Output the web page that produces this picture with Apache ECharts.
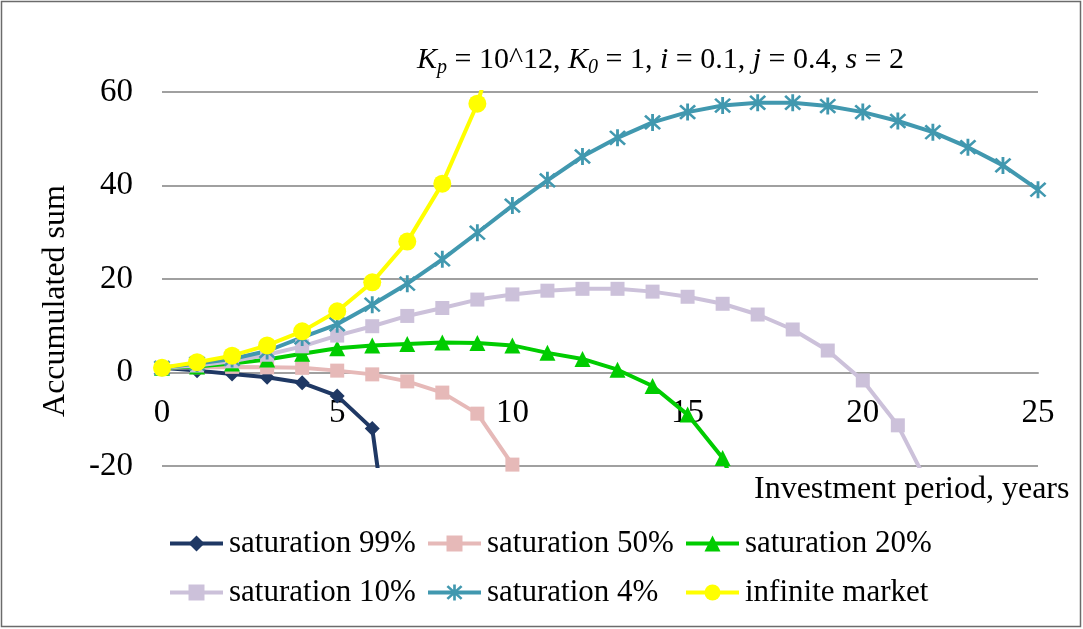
<!DOCTYPE html>
<html>
<head>
<meta charset="utf-8">
<script src="https://cdn.jsdelivr.net/npm/echarts@6/dist/echarts.min.js"></script>
<style>
  html, body { margin: 0; padding: 0; background: #fff; }
  #graph { width: 1083px; height: 629px; }
</style>
</head>
<body>
<div id="graph"></div>
<script>
// years 0..n for every series
var sat99 = [1, 0.4, -0.3, -1.0, -2.2, -5.0, -12.0, -67];
var sat50 = [1, 1.1, 1.2, 1.1, 1.0, 0.4, -0.4, -1.9, -4.3, -8.8, -19.7];
var sat20 = [1, 1.3, 1.9, 2.8, 4.0, 5.2, 5.8, 6.1, 6.4, 6.3, 5.8, 4.2, 2.9, 0.6, -2.9, -9.0, -18.3, -36];
var sat10 = [1, 1.5, 2.4, 3.8, 5.6, 7.9, 9.9, 12.1, 13.8, 15.6, 16.7, 17.5, 17.9, 17.9, 17.3, 16.2,
             14.7, 12.4, 9.2, 4.7, -1.7, -11.3, -26];
var sat4 = [1, 1.9, 2.9, 4.6, 7.5, 10.3, 14.5, 19.0, 24.2, 29.9, 35.7, 41.1, 46.2, 50.2, 53.5, 55.7,
            57.1, 57.7, 57.7, 57.0, 55.7, 53.8, 51.4, 48.2, 44.3, 39.1];
var infinite = [1, 2.2, 3.6, 5.8, 8.8, 13.1, 19.3, 28.0, 40.4, 57.5, 82];

var names = ['saturation 99%', 'saturation 50%', 'saturation 20%',
             'saturation 10%', 'saturation 4%', 'infinite market'];
var xTicks = [0, 25, 5];     // min, max, step
var yTicks = [-20, 60, 20];

var FONT = '"Liberation Serif", "Times New Roman", serif';
var asterisk = 'path://M-1.5,-10L1.5,-10L1.5,10L-1.5,10Z' +
    'M-9,-7L-7,-9L9,7L7,9Z' +
    'M7,-9L9,-7L-7,9L-9,7Z';

function pairs(arr) {
    return arr.map(function (v, i) { return [i, v]; });
}

function line(name, arr, color, symbol, size) {
    return {
        name: name,
        type: 'line',
        data: pairs(arr),
        clip: true,
        symbol: symbol,
        symbolSize: size,
        showAllSymbol: true,
        lineStyle: { color: color, width: 4 },
        itemStyle: { color: color },
        emphasis: { disabled: true },
        animation: false
    };
}

var dom = document.getElementById("graph");
var myChart = echarts.init(dom);

var legendBase = {
    orient: 'vertical',
    top: 523,
    itemWidth: 53,
    itemHeight: 20,
    itemGap: 18,
    selectedMode: false,
    lineStyle: { width: 4 },
    textStyle: { fontFamily: FONT, fontSize: 31, color: '#000', padding: [0, 0, 0, 1] }
};

option = {
    backgroundColor: '#fff',
    textStyle: { fontFamily: FONT },
    title: [{
        left: 412,
        top: 37,
        text: '{it|K}{sub|p} = 10^12, {it|K}{sub|0} = 1, {it|i} = 0.1, {it|j} = 0.4, {it|s} = 2',
        textStyle: {
            fontFamily: FONT, fontSize: 30, fontWeight: 'normal', color: '#000', lineHeight: 36,
            rich: {
                it: { fontFamily: FONT, fontSize: 30, fontStyle: 'italic', color: '#000', lineHeight: 36 },
                sub: { fontFamily: FONT, fontSize: 20, fontStyle: 'italic', color: '#000',
                       lineHeight: 20, verticalAlign: 'bottom' }
            }
        }
    }, {
        left: 749,
        top: 469,
        text: 'Investment period, years',
        textStyle: { fontFamily: FONT, fontSize: 32, fontWeight: 'normal', color: '#000' }
    }],
    legend: [
        Object.assign({ left: 163, data: [names[0], names[3]] }, legendBase),
        Object.assign({ left: 421, data: [names[1], names[4]] }, legendBase),
        Object.assign({ left: 679, data: [names[2], names[5]] }, legendBase)
    ],
    grid: { left: 162, right: 45, top: 92, bottom: 163 },
    xAxis: {
        type: 'value',
        position: 'bottom',
        offset: -93,
        min: xTicks[0],
        max: xTicks[1],
        interval: xTicks[2],
        axisLine: { onZero: false, lineStyle: { color: '#a0a0a0', width: 2 } },
        axisTick: { show: false },
        splitLine: { show: false },
        axisLabel: { fontFamily: FONT, fontSize: 33, color: '#000', margin: 24 }
    },
    yAxis: {
        type: 'value',
        min: yTicks[0],
        max: yTicks[1],
        interval: yTicks[2],
        axisLine: { show: false, onZero: false },
        axisTick: { show: false },
        splitLine: { lineStyle: { color: '#a0a0a0', width: 2 } },
        axisLabel: { fontFamily: FONT, fontSize: 33, color: '#000', margin: 29 }
    },
    graphic: [{
        type: 'text',
        x: 56,
        y: 301,
        rotation: Math.PI / 2,
        style: {
            text: 'Accumulated sum',
            font: '32px ' + FONT,
            fill: '#000',
            align: 'center',
            verticalAlign: 'middle'
        }
    }, {
        type: 'rect',
        shape: { x: 1.5, y: 1.5, width: 1079, height: 625 },
        style: { fill: null, stroke: '#6b6b6b', lineWidth: 1.5 },
        silent: true
    }],
    series: [
        line(names[0], sat99, '#1f3864', 'diamond', 15),
        line(names[1], sat50, '#e6b9b8', 'rect', 14),
        line(names[2], sat20, '#00cc00', 'triangle', 16),
        line(names[3], sat10, '#ccc1da', 'rect', 14),
        line(names[4], sat4, '#4198af', asterisk, 17),
        line(names[5], infinite, '#ffff00', 'circle', 18)
    ]
};
if (option && typeof option === "object") {
    myChart.setOption(option, true);
}
</script>
</body>
</html>
